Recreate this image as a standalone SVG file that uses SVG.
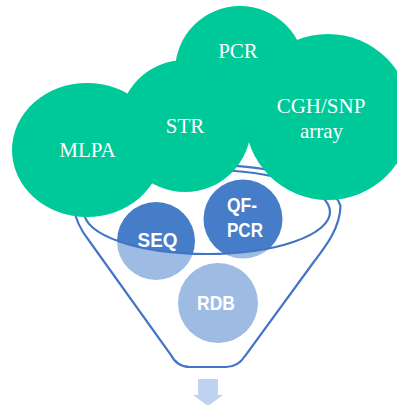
<svg xmlns="http://www.w3.org/2000/svg" width="397" height="405" viewBox="0 0 397 405">
  <style>
    .cloud { fill: #00c999; }
    .cloud-text { font-family: "Liberation Serif", "Times New Roman", serif; font-size: 21px; fill: #ffffff; text-anchor: middle; }
    .ball { fill: #457dc9; }
    .ball-text { font-family: "Liberation Sans Narrow", "Liberation Sans", Arial, sans-serif; font-weight: bold; font-size: 21px; fill: #ffffff; text-anchor: middle; }
    .wall { fill: #ffffff; fill-opacity: 0.48; fill-rule: evenodd; }
    .rim { fill: none; stroke: #4474c5; stroke-width: 2.2; }
    .flow { fill: #bfd2ef; }
  </style>

  <!-- items inside the funnel -->
  <g id="seq">
    <circle class="ball" cx="156" cy="241" r="39"/>
    <text class="ball-text" x="157.5" y="247" textLength="40" lengthAdjust="spacingAndGlyphs">SEQ</text>
  </g>
  <g id="qf-pcr">
    <circle class="ball" cx="243" cy="219" r="39.5"/>
    <text class="ball-text" x="242" y="212" textLength="30" lengthAdjust="spacingAndGlyphs">QF-</text>
    <text class="ball-text" x="245" y="237" textLength="36" lengthAdjust="spacingAndGlyphs">PCR</text>
  </g>
  <g id="rdb">
    <circle class="ball" cx="218" cy="303" r="40"/>
    <text class="ball-text" x="216" y="310" textLength="38" lengthAdjust="spacingAndGlyphs">RDB</text>
  </g>

  <!-- funnel: translucent wall over the items, then its outlines -->
  <g id="funnel">
    <path class="wall" d="M 340.5 206 A 134 45 0 0 0 73.5 206 C 75 220 82 232 90 242 L 171 355 Q 177 367 190 367 L 226 367 Q 238 367 245 356 L 313 263 C 326 246 340 228 340.5 206 Z M 84 212 A 123 42 0 1 0 330 212 A 123 42 0 1 0 84 212 Z"/>
    <path class="rim" d="M 340.5 206 A 134 45 0 0 0 73.5 206 C 75 220 82 232 90 242 L 171 355 Q 177 367 190 367 L 226 367 Q 238 367 245 356 L 313 263 C 326 246 340 228 340.5 206 Z"/>
    <ellipse class="rim" cx="207" cy="212" rx="123" ry="42"/>
  </g>

  <!-- inputs poured into the funnel -->
  <g id="mlpa">
    <ellipse class="cloud" cx="87" cy="150" rx="75" ry="67"/>
    <text class="cloud-text" x="87.5" y="157">MLPA</text>
  </g>
  <g id="pcr">
    <circle class="cloud" cx="240" cy="71" r="65"/>
    <text class="cloud-text" x="238" y="58">PCR</text>
  </g>
  <g id="str">
    <circle class="cloud" cx="185" cy="126" r="66"/>
    <text class="cloud-text" x="185" y="133">STR</text>
  </g>
  <g id="cgh-snp">
    <circle class="cloud" cx="328" cy="117" r="83"/>
    <text class="cloud-text" x="321" y="113">CGH/SNP</text>
    <text class="cloud-text" x="321.5" y="138">array</text>
  </g>

  <!-- output arrow -->
  <g id="connectors">
    <path class="flow" d="M 198 379 L 218 379 L 218 395 L 223 395 L 208 406 L 193 395 L 198 395 Z"/>
  </g>
</svg>
